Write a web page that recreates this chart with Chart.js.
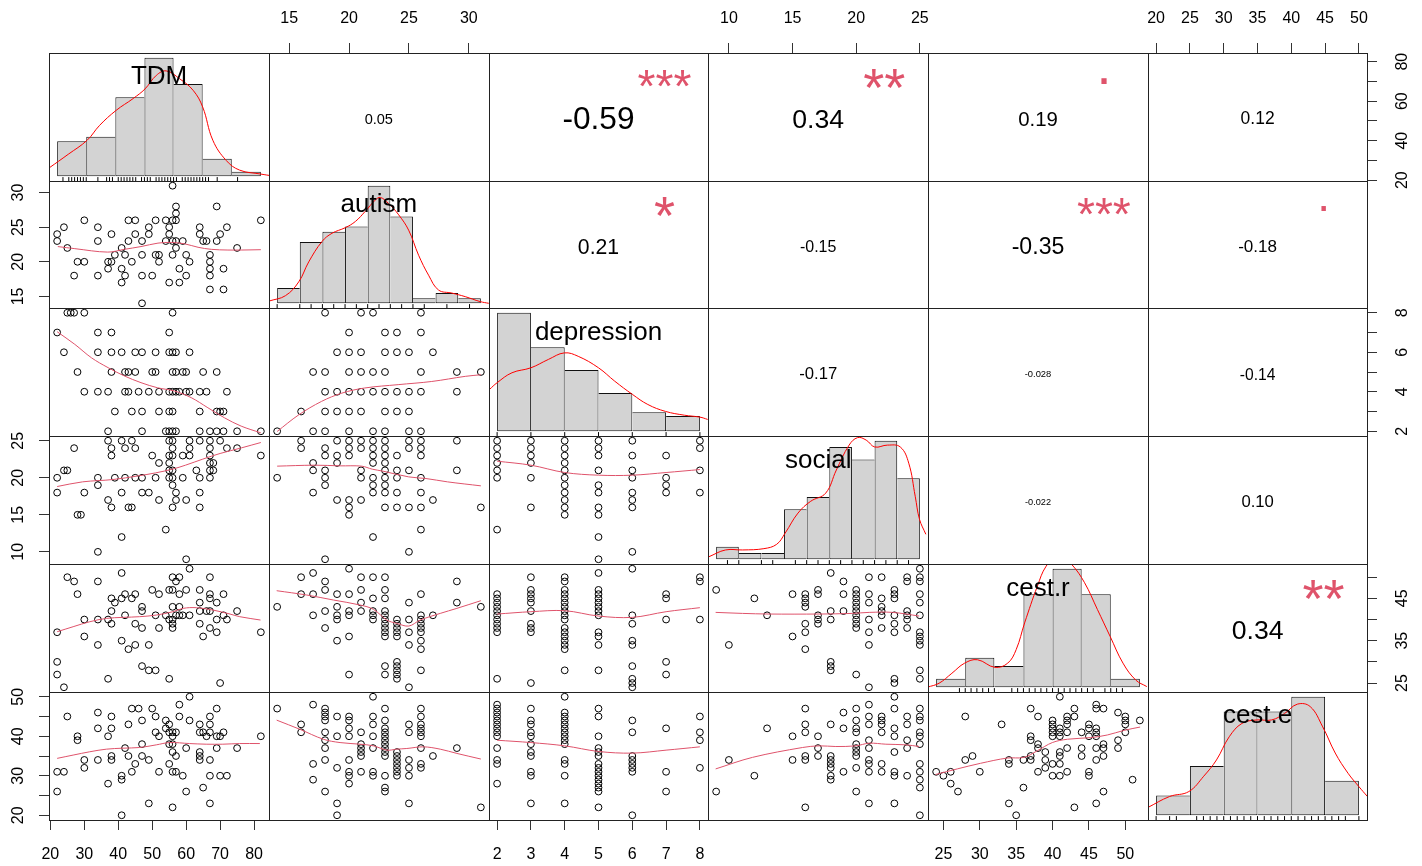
<!DOCTYPE html>
<html>
<head>
<meta charset="utf-8">
<title>chart.Correlation</title>
<script src="https://cdn.jsdelivr.net/npm/chart.js@4.4.1/dist/chart.umd.min.js"></script>
<style>
  html, body { margin: 0; padding: 0; background: #fff; }
  body { position: relative; width: 1422px; height: 866px; overflow: hidden; }
  canvas { position: absolute; }
  .txt { position: absolute; line-height: 1; white-space: nowrap; transform: translateX(-50%);
         font-family: "Liberation Sans", Arial, sans-serif; color: #000; }
</style>
</head>
<body>
<script>
// variables in matrix order
const varNames = ['TDM', 'autism', 'depression', 'social', 'cest.r', 'cest.e'];
// observed min / max of every variable (R pads these by 4% on the axes)
const varRanges = [[22, 82], [14, 31], [2, 8], [9, 25], [24, 52], [20, 50]];

// axis ticks and the labels R kept on them
const tdmTicks = [20, 30, 40, 50, 60, 70, 80];
const tdmRightLabels = [20, 40, 60, 80];
const autismTicks = [15, 20, 25, 30];
const depTicks = [2, 3, 4, 5, 6, 7, 8];
const depRightLabels = [2, 4, 6, 8];
const socialTicks = [10, 15, 20, 25];
const cestrTicks = [25, 30, 35, 40, 45, 50];
const cestrRightLabels = [25, 35, 45];
const cesteTicks = [20, 25, 30, 35, 40, 45, 50];
const cesteLeftLabels = [20, 30, 40, 50];

// histograms (breaks, counts), density curves and rugs
const tdmBreaks = [20, 30, 40, 50, 60, 70, 80, 90];
const tdmCounts = [8, 9, 18, 27, 21, 4, 1];
const tdmDensity = [[17.25,1.9],[23.8,5.0],[30.3,8.2],[34.6,11.6],[40.25,15.0],[46.1,17.7],[50.2,19.9],[54.1,23.0],[57.5,24.0],[62.1,22.2],[66.7,19.6],[70,15.8],[73.5,8.2],[78.1,3.6],[82.7,1.4],[90,0.5],[92.8,0.2]];
const tdmRug = [22,24,25,26,27,28,29,30,34,37,38,39,41,42,43,44,45,46,47,49,50,51,52,54,55,56,57,58,59,60,61,63,64,65,66,67,68,69,70,71,72,75,82];

const autismBreaks = [14, 16, 18, 20, 22, 24, 26, 28, 30, 32];
const autismCounts = [3, 12, 14, 15, 23, 17, 1, 2, 1];
const autismDensity = [[13.32,0.46],[14.74,1.5],[15.91,4.2],[16.79,8.1],[17.97,12.1],[18.85,13.7],[20.03,14.8],[20.91,16.0],[21.79,18.0],[22.68,20.2],[23.12,20.7],[23.85,19.5],[24.74,17.3],[25.62,14.3],[26.5,9.4],[27.38,5.5],[28.26,2.6],[29.44,2.0],[30.62,1.3],[31.94,0.33],[32.7,0]];
const autismRug = [14,16,17,18,19,20,21,22,23,24,25,26,27,29,31];

const depBreaks = [2, 3, 4, 5, 6, 7, 8];
const depCounts = [31, 22, 16, 10, 5, 4];
const depDensity = [[1.77,10.9],[2.0,12.7],[2.44,15.3],[3.0,16.6],[3.52,18.8],[3.99,20.5],[4.4,19.6],[5.0,16.6],[5.48,13.1],[6.01,9.6],[6.46,7.0],[6.98,5.2],[7.54,4.2],[8.0,3.7],[8.23,3.1]];
const depRug = [2, 3, 4, 5, 6, 7, 8];

const socialBreaks = [8, 10, 12, 14, 16, 18, 20, 22, 24, 26];
const socialCounts = [2, 1, 1, 8, 10, 18, 16, 19, 13];
const socialDensity = [[7.32,0.37],[8.83,1.49],[10.34,1.49],[12.22,1.7],[13.35,2.4],[14.1,4.2],[15.23,7.4],[16.36,9.3],[17.68,10.6],[18.62,14.3],[19.75,18.3],[20.5,19.5],[21.26,19.1],[22.01,18.0],[23.14,18.3],[24.27,18.0],[25.02,15.4],[25.59,10.1],[25.97,6.4],[26.53,4.0]];
const socialRug = [9,10,12,13,15,16,17,18,19,20,21,22,23,24,25];

const cestrBreaks = [20, 25, 30, 35, 40, 45, 50, 55];
const cestrCounts = [2, 7, 5, 22, 28, 22, 2];
const cestrDensity = [[18.46,0],[20.5,0.95],[22.7,3.3],[24.9,5.7],[27.1,6.5],[30.1,4.7],[32.3,5.7],[33.75,8.9],[35.2,15.2],[37.4,23.9],[38.9,28.6],[41.1,31.5],[43.3,29.0],[45.5,24.7],[47.7,18.4],[49.9,12.0],[52.1,5.7],[54.3,1.7],[56.2,0.16]];
const cestrRug = [24,25,26,27,28,29,30,33,34,35,36,37,38,39,40,41,42,43,44,45,46,47,49,50,51,52];

const cesteBreaks = [20, 25, 30, 35, 40, 45, 50];
const cesteCounts = [4, 10, 21, 21, 24, 7];
const cesteDensity = [[18.68,1.5],[22.0,3.8],[24.84,4.8],[27.04,7.9],[28.93,11.2],[30.82,15.9],[32.7,18.6],[34.9,19.3],[37.1,19.3],[39.0,20.6],[40.9,22.5],[42.8,22.0],[44.65,17.9],[46.5,12.6],[48.4,8.5],[50.0,5.8],[51.26,3.8]];
const cesteRug = [20,22,23,26,27,28,29,30,31,32,33,34,35,36,37,38,39,40,41,42,43,44,45,46,47,48,50];

// scatter panels; [y, [x...]] groups, [x, [y...]] groups or [x, y] pairs
const tdmAutism = [[31,[56]],[28,[57,69]],[27,[57]],[26,[30,43,45,51,54,56,57,82]],[25,[24,34,49,55,64,72]],[24,[22,38,45,49,55,64,70]],[23,[22,34,43,47,54,56,57,59,65,66,69]],[22,[25,41,57,75]],[21,[39,42,47,51,52,56,60,67]],[20,[28,30,37,38,44,52,61,67]],[19,[37,41,58,67,71]],[18,[27,34,42,47,50,60,67]],[17,[41,55,58]],[16,[67,71]],[14,[47]]];
const tdmDep = [[8,[25,26,27,30,56]],[7,[22,34,38,55]],[6,[24,34,38,41,45,47,51,55,56,57,61]],[5,[28,38,42,43,45,50,51,56,57,59,60,65,69]],[4,[30,34,37,42,43,46,49,52,55,56,57,58,60,61,64,66,72]],[3,[39,44,47,52,55,56,64,69,70,71]],[2,[37,47,54,55,56,57,64,67,69,71,75,82]]];
const autismDep = [[8,[18,21,22,26]],[7,[20,23,24,26]],[6,[19,20,21,23,24,25,27]],[5,[17,18,20,21,22,23,26,29,31]],[4,[18,19,20,21,22,23,24,25,26,29]],[3,[16,18,19,20,21,23,24,25]],[2,[14,17,18,20,22,23,25,26]]];
const tdmSocial = [[25,[37,41,44,55,56,61,64,67,70]],[24,[27,38,42,45,56,61,67,72,75]],[23,[38,50,55,56,59,61,67,82]],[22,[52,55,67,68]],[21,[24,25,55,56,63,67,68]],[20,[22,34,39,42,45,47,51,55,56,59,64,67]],[19,[34,56]],[18,[22,30,41,47,49,57,64]],[17,[37,52,57,60]],[16,[38,43,44,56,64]],[15,[28,29]],[13,[54]],[12,[41]],[10,[34]],[9,[60]]];
const autismSocial = [[25,[16,19,20,21,22,23,25,26,29]],[24,[16,18,20,21,22,23,25,26]],[23,[18,19,20,22,23,24,26]],[22,[17,19,22,23]],[21,[17,18,21,23,24,25,29]],[20,[14,18,21,22,23,24,26]],[19,[18,22,23]],[18,[17,22,23,24,26]],[17,[19,20,21,27]],[16,[20,23,24,25,26,31]],[15,[20]],[13,[26]],[12,[22]],[10,[25]],[9,[18]]];
const depSocial = [[2,[25,24,23,22,21,20,13]],[3,[25,24,23,22,20,16]],[4,[25,24,23,22,21,20,19,18,17,16,15]],[5,[25,24,23,21,19,18,16,15,12,9]],[6,[25,23,21,20,18,17,16,10]],[7,[23,20,19,18]],[8,[25,24,21,18]]];
const tdmCestr = [[61,52],[41,51],[25,50],[56,50],[58,50],[67,50],[27,49],[34,49],[57,49],[28,46],[38,45],[39,44],[41,45],[42,46],[44,45],[45,46],[50,47],[52,46],[55,47],[56,47],[58,46],[60,47],[64,47],[67,46],[71,46],[67,45],[69,44],[64,44],[38,42],[47,43],[47,42],[56,43],[58,43],[64,42],[66,42],[67,42],[75,42],[30,40],[34,40],[37,40],[42,41],[51,41],[54,41],[55,40],[56,40],[57,41],[58,41],[59,41],[61,41],[71,41],[72,40],[38,39],[45,39],[47,38],[52,38],[56,39],[56,38],[64,39],[67,38],[69,40],[69,37],[82,37],[22,37],[30,36],[41,35],[43,33],[45,34],[49,34],[34,34],[65,36],[22,30],[22,27],[24,24],[47,29],[49,28],[51,28],[37,26],[55,26],[70,25]];
const autismCestr = [[14,43],[16,50],[17,51],[18,49],[20,52],[21,50],[22,50],[23,50],[26,46],[25,44],[16,46],[17,46],[18,47],[19,46],[20,46],[21,47],[23,47],[23,45],[22,45],[21,44],[18,42],[19,43],[20,42],[21,42],[22,42],[17,41],[19,41],[19,40],[20,41],[22,41],[22,40],[23,42],[23,41],[23,40],[23,39],[23,38],[23,37],[23,36],[24,40],[24,39],[24,38],[24,37],[24,36],[24,30],[24,29],[24,28],[24,27],[24,26],[25,40],[25,37],[25,34],[26,41],[26,40],[26,39],[26,38],[26,37],[26,35],[26,33],[26,28],[25,24],[27,41],[23,29],[23,27],[20,27],[29,49],[29,44],[31,43],[18,38],[20,36],[19,35]];
const depCestr = [[2,[46,45,44,43,42,41,40,39,38,37,26]],[3,[50,47,46,45,44,42,39,38,37,25]],[4,[50,49,47,46,45,44,43,42,41,40,38,37,36,35,34,33,28]],[5,[51,47,46,45,44,43,42,41,37,36,34,28]],[6,[52,41,39,35,34,29,26,25,24]],[7,[46,45,40,30,27]],[8,[50,49,40]]];
const socialCestr = [[9,[47]],[10,[34]],[12,[45]],[13,[41]],[15,[46,36]],[16,[46,45,44,43,39,37,33]],[17,[47,46,41,40,39]],[18,[51,42,40,30,29,28]],[19,[49,46,42]],[20,[47,46,45,44,43,42,41,40,39,38,27]],[21,[50,46,44,40,37,34,24]],[22,[50,45,43,42,41,38]],[23,[47,46,45,41,39,37,26,25]],[24,[50,49,42,41,40,38]],[25,[52,50,49,46,44,41,37,36,35,34,28,26]]];
const tdmCeste = [[61,50],[58,48],[44,47],[46,47],[50,47],[69,47],[25,45],[34,46],[38,45],[51,45],[58,45],[67,45],[47,44],[54,44],[61,44],[43,43],[55,43],[64,43],[67,43],[34,42],[38,42],[54,42],[55,41],[56,41],[57,41],[51,41],[64,41],[65,41],[67,41],[71,41],[28,39],[28,40],[37,40],[52,40],[56,40],[66,40],[69,40],[70,40],[82,40],[47,38],[55,38],[56,38],[42,37],[60,37],[69,37],[75,37],[38,35],[43,35],[47,35],[56,36],[57,35],[64,36],[64,35],[30,34],[34,34],[38,34],[49,34],[64,34],[67,34],[30,32],[45,33],[55,33],[56,31],[57,31],[22,31],[24,31],[44,31],[52,31],[41,30],[41,29],[59,30],[67,30],[70,30],[72,30],[37,28],[22,26],[60,26],[65,27],[49,23],[67,23],[56,22],[41,20]];
const autismCeste = [[14,[47]],[16,[43,41]],[17,[48,33,29]],[18,[47,46,45,44,41,39,37,34,26]],[19,[45,40,32,23,20]],[20,[45,44,42,40,34,31,30,28]],[21,[41,38,37,36,35,31]],[22,[50,45,43,40,37,31,30]],[23,[47,44,42,41,40,39,38,37,36,35,30,27,26]],[24,[36,35,34,33,32,31,30]],[25,[43,41,34,32,30,23]],[26,[47,45,43,42,41,40,37,33,32]],[27,[35]],[29,[37]],[31,[22]]];
const depCeste = [[2,[48,47,46,45,44,43,42,41,40,37,34,33,28]],[3,[47,44,43,41,40,38,36,35,31,30,23]],[4,[50,46,45,44,43,42,41,40,39,38,34,33,30,23]],[5,[47,45,40,37,36,35,33,32,31,30,29,28,27,26,22]],[6,[44,41,35,34,33,32,31,20]],[7,[42,31,26]],[8,[45,41,39,32]]];
const socialCeste = [[9,[26]],[10,[34]],[12,[30]],[13,[42]],[15,[40,34]],[16,[47,43,41,35,34,22]],[17,[40,37,35]],[18,[43,35,34,33,32,30,29]],[19,[46,42,31]],[20,[47,44,42,41,38,37,36,35,32,26]],[21,[48,45,43,39,37,34,33,31,23]],[22,[45,44,43,41,33,31]],[23,[50,47,42,40,36,31,30,23]],[24,[45,43,39,37,30]],[25,[47,45,44,41,40,38,33,31,29,27,20]]];
const cestrCeste = [[24,[31]],[25,[30]],[26,[31,28]],[27,[26]],[28,[45,34]],[29,[35]],[30,[31]],[33,[43]],[34,[34,33,23]],[35,[20]],[36,[34,27]],[37,[47,40,39,35,34]],[38,[45,38,37,31]],[39,[36,34,32]],[40,[44,43,42,41,40,33,30]],[41,[50,42,41,40,36,35,33,30]],[42,[45,44,43,41,37,31]],[43,[47,45,22]],[44,[41,37,35]],[45,[43,42,40,31,30]],[46,[48,47,42,41,40,37,34,23]],[47,[47,38,37,35,26]],[49,[46,39,37]],[50,[45,44,43,41]],[51,[29]],[52,[44]]];

// smoothers (panel.smooth)
const fitTdmAutism = [[22.2,22.2],[27.2,21.9],[36.9,21.4],[41.8,21.8],[46.7,22.2],[51.7,22.7],[55.6,22.8],[59.5,22.6],[63.5,22.1],[67.4,21.8],[72.3,21.7],[76.2,21.7],[82,21.75]];
const fitTdmDep = [[22,7.04],[27.2,6.4],[32.1,5.72],[37,5.22],[41.8,4.8],[46.7,4.46],[51.6,4.2],[56.5,4.04],[61.5,3.7],[66.4,3.19],[71.3,2.68],[76.2,2.26],[82,1.92]];
const fitAutismDep = [[14,1.99],[15.8,2.83],[17.7,3.51],[19.4,3.93],[21.3,4.19],[24.1,4.36],[26.9,4.52],[29.7,4.78],[31,4.86]];
const fitTdmSocial = [[22,18.82],[29.5,19.45],[38.4,19.76],[45.9,20.26],[51,20.66],[56,21.17],[59.8,21.7],[64.9,22.52],[70,23.28],[76.3,24.04],[82,24.76]];
const fitAutismSocial = [[14,21.57],[17.1,21.7],[19.25,21.61],[21.05,21.57],[21.94,21.16],[22.84,20.89],[24.98,20.12],[26.42,19.9],[28.21,19.45],[31,18.91]];
const fitDepSocial = [[2,22.24],[3,21.7],[4,20.71],[5,20.35],[6,20.35],[7,20.71],[8,21.11]];
const fitTdmCestr = [[22,37.12],[26.7,38.3],[31.6,39.48],[36.5,40.27],[41.4,40.51],[46.3,40.67],[51.2,41.06],[56.1,41.85],[59.1,42.64],[63,42.8],[67.9,42.24],[72.9,41.3],[75.8,40.67],[81.9,39.88]];
const fitAutismCestr = [[13.96,46.81],[16.47,45.79],[18.7,44.61],[20.92,43.43],[22.04,42.4],[23.15,39.88],[23.99,39.09],[24.99,38.46],[25.94,39.88],[27.61,41.45],[29,42.64],[31,44.45]];
const fitDepCestr = [[2,41.3],[3,41.85],[4,42.09],[5,40.82],[6,40.51],[7,41.85],[8,42.8]];
const fitSocialCestr = [[8.96,41.69],[11.06,41.45],[13.15,41.3],[17.09,41.3],[19.71,41.45],[21.02,41.69],[22.86,41.69],[24.95,40.82]];
const fitTdmCeste = [[22,34.4],[26.7,35.23],[31.6,36.07],[36.5,36.73],[41.4,36.98],[46.3,37.15],[51.2,37.82],[55.1,38.4],[61,38.15],[65.9,37.99],[70.8,37.99],[75.7,38.15],[81.7,38.15]];
const fitAutismCeste = [[13.96,44.08],[15.91,41.74],[17.86,39.24],[19.25,38.4],[20.92,37.99],[22.04,37.57],[23.15,36.49],[23.99,36.73],[24.82,36.9],[26.21,37.32],[27.61,36.73],[29,35.65],[31,34.23]];
const fitDepCeste = [[2,38.99],[3,38.4],[4,37.57],[5,36.15],[6,35.73],[7,36.48],[8,37.32]];
const fitSocialCeste = [[8.96,31.73],[11.85,34.65],[15.78,37.15],[17.09,37.57],[18.4,37.4],[19.97,37.57],[21.02,38.24],[22.33,37.99],[23.91,37.82],[24.95,37.4]];
const fitCestrCeste = [[23.92,30.31],[26.9,31.73],[30.1,33.15],[33.78,34.48],[36.07,34.65],[37.9,36.32],[39.97,38.4],[42.04,39.24],[45.25,39.66],[47.54,40.32],[49.83,41.49],[52.04,42.33]];

// upper triangle, row by row
const corLabels = ['0.05', '-0.59', '0.34', '0.19', '0.12', '0.21', '-0.15', '-0.35', '-0.18', '-0.17', '-0.028', '-0.14', '-0.022', '0.10', '0.34'];
const corStars = ['', '***', '**', '.', '', '*', '', '***', '.', '', '', '', '', '', '**'];

// ---------------------------------------------------------------
const FONT = '"Liberation Sans", Arial, sans-serif';
const L0 = 49.3, T0 = 52.7, CW = 219.7, CH = 127.83, M = 50;
const colX = [], rowY = [];
for (let i = 0; i <= 6; i++) {
  colX.push(Math.round(L0 + i * CW));
  rowY.push(Math.round(T0 + i * CH));
}

const rowsY = g => g.flatMap(([y, xs]) => xs.map(x => ({x, y})));
const colsX = g => g.flatMap(([x, ys]) => ys.map(y => ({x, y})));
const pairs = p => p.map(([x, y]) => ({x, y}));

const hists = [
  {breaks: tdmBreaks, counts: tdmCounts, dens: tdmDensity, rug: tdmRug},
  {breaks: autismBreaks, counts: autismCounts, dens: autismDensity, rug: autismRug},
  {breaks: depBreaks, counts: depCounts, dens: depDensity, rug: depRug},
  {breaks: socialBreaks, counts: socialCounts, dens: socialDensity, rug: socialRug},
  {breaks: cestrBreaks, counts: cestrCounts, dens: cestrDensity, rug: cestrRug},
  {breaks: cesteBreaks, counts: cesteCounts, dens: cesteDensity, rug: cesteRug},
];

const panels = {
  '1,0': [rowsY(tdmAutism), fitTdmAutism],
  '2,0': [rowsY(tdmDep), fitTdmDep],
  '2,1': [rowsY(autismDep), fitAutismDep],
  '3,0': [rowsY(tdmSocial), fitTdmSocial],
  '3,1': [rowsY(autismSocial), fitAutismSocial],
  '3,2': [colsX(depSocial), fitDepSocial],
  '4,0': [pairs(tdmCestr), fitTdmCestr],
  '4,1': [pairs(autismCestr), fitAutismCestr],
  '4,2': [colsX(depCestr), fitDepCestr],
  '4,3': [colsX(socialCestr), fitSocialCestr],
  '5,0': [pairs(tdmCeste), fitTdmCeste],
  '5,1': [colsX(autismCeste), fitAutismCeste],
  '5,2': [colsX(depCeste), fitDepCeste],
  '5,3': [colsX(socialCeste), fitSocialCeste],
  '5,4': [colsX(cestrCeste), fitCestrCeste],
};

// outer axes: [ticks, labels, padding]
const topAxes = {1: [autismTicks, autismTicks, 15], 3: [socialTicks, socialTicks, 15], 5: [cesteTicks, cesteTicks, 15]};
const bottomAxes = {0: [tdmTicks, tdmTicks, 15], 2: [depTicks, depTicks, 15], 4: [cestrTicks, cestrTicks, 15]};
const leftAxes = {1: [autismTicks, autismTicks, 12], 3: [socialTicks, socialTicks, 12], 5: [cesteTicks, cesteLeftLabels, 12]};
const rightAxes = {0: [tdmTicks, tdmRightLabels, 17], 2: [depTicks, depRightLabels, 21], 4: [cestrTicks, cestrRightLabels, 17]};

const boxPlugin = {
  id: 'box',
  afterDraw(chart) {
    const {ctx, chartArea: a} = chart;
    ctx.save();
    ctx.strokeStyle = '#222';
    ctx.lineWidth = 1;
    ctx.strokeRect(a.left + 0.5, a.top + 0.5, a.right - a.left, a.bottom - a.top);
    ctx.restore();
  }
};

function padded(v) {
  const [lo, hi] = varRanges[v];
  const e = 0.04 * (hi - lo);
  return [lo - e, hi + e];
}

function axis(v, horizontal, pos, spec) {
  const [mn, mx] = padded(v);
  const s = {type: 'linear', min: mn, max: mx, offset: false, display: !!pos,
             border: {display: false}, grid: {display: false}};
  if (!pos) return s;
  const [ticks, labels, pad] = spec;
  s.position = pos;
  s.grid = {display: true, drawOnChartArea: false, drawTicks: true, tickLength: 10, color: '#333'};
  s.ticks = {autoSkip: false, includeBounds: false, padding: pad, color: '#000',
             font: {family: FONT, size: 16},
             callback: val => labels.includes(val) ? String(val) : ''};
  if (!horizontal) Object.assign(s.ticks, {minRotation: 90, maxRotation: 90, crossAlign: 'center'});
  s.afterBuildTicks = sc => { sc.ticks = ticks.map(t => ({value: t})); };
  s.afterFit = sc => { if (horizontal) sc.height = M; else sc.width = M; };
  return s;
}

function makeCanvas(r, c) {
  const x0 = colX[c], y0 = rowY[r];
  const w = colX[c + 1] - x0 + 2 * M, h = rowY[r + 1] - y0 + 2 * M;
  const cv = document.createElement('canvas');
  cv.width = w; cv.height = h;
  cv.style.left = (x0 - M) + 'px'; cv.style.top = (y0 - M) + 'px';
  cv.style.width = w + 'px'; cv.style.height = h + 'px';
  document.body.appendChild(cv);
  return cv;
}

const baseOptions = () => ({
  responsive: false, animation: false, devicePixelRatio: 1, events: [],
  plugins: {legend: {display: false}, tooltip: {enabled: false}, title: {display: false}},
});

function histCell(r) {
  const hs = hists[r];
  const b = hs.breaks, n = b.length - 1, cnt = hs.counts;
  const span = b[n] - b[0], top = Math.max(...cnt);
  const ymin = -0.04 * top, ymax = 1.04 * top;
  const opts = baseOptions();
  opts.layout = {padding: M, autoPadding: false};
  opts.scales = {
    x: {type: 'linear', display: false, offset: false, min: b[0] - 0.04 * span, max: b[n] + 0.04 * span,
        afterBuildTicks: sc => { sc.ticks = []; }},
    y: {type: 'linear', display: false, min: ymin, max: ymax},
  };
  new Chart(makeCanvas(r, r), {
    type: 'bar',
    data: {datasets: [
      {type: 'line', data: pairs(hs.dens), borderColor: '#FF0000', borderWidth: 1, pointRadius: 0, tension: 0.4, fill: false},
      {type: 'scatter', data: hs.rug.map(x => ({x, y: ymin + 0.015 * (ymax - ymin)})), pointStyle: 'line',
       rotation: 90, pointRadius: 2, borderColor: '#000', borderWidth: 1},
      {type: 'bar', data: cnt.map((y, i) => ({x: (b[i] + b[i + 1]) / 2, y})),
       backgroundColor: '#D3D3D3', borderColor: '#111', borderSkipped: false, inflateAmount: 0,
       barPercentage: 1, categoryPercentage: 1, grouped: false,
       borderWidth: ctx => {
         const i = ctx.dataIndex;
         return {top: 1, bottom: 1,
                 left: (i === 0 || cnt[i] > cnt[i - 1]) ? 1 : 0,
                 right: (i === cnt.length - 1 || cnt[i] >= cnt[i + 1]) ? 1 : 0};
       }},
    ]},
    options: opts,
    plugins: [boxPlugin],
  });
}

function plainCell(r, c) {
  const top = r === 0 ? topAxes[c] : null;
  const bottom = r === 5 ? bottomAxes[c] : null;
  const left = c === 0 ? leftAxes[r] : null;
  const right = c === 5 ? rightAxes[r] : null;
  const xSpec = top || bottom, ySpec = left || right;
  const opts = baseOptions();
  opts.layout = {autoPadding: false, padding: {
    left: left ? 0 : M, right: right ? 0 : M, top: top ? 0 : M, bottom: bottom ? 0 : M}};
  opts.scales = {
    x: axis(c, true, top ? 'top' : bottom ? 'bottom' : null, xSpec),
    y: axis(r, false, left ? 'left' : right ? 'right' : null, ySpec),
  };
  const datasets = [];
  const p = panels[r + ',' + c];
  if (p) {
    datasets.push({type: 'line', data: pairs(p[1]), borderColor: '#DF536B', borderWidth: 1,
                   pointRadius: 0, tension: 0.35, fill: false});
    datasets.push({type: 'scatter', data: p[0], pointRadius: 3.4, borderWidth: 1,
                   borderColor: '#000', backgroundColor: 'rgba(0,0,0,0)'});
  }
  new Chart(makeCanvas(r, c), {type: 'scatter', data: {datasets}, options: opts, plugins: [boxPlugin]});
}

for (let r = 0; r < 6; r++) {
  for (let c = 0; c < 6; c++) {
    if (r === c) histCell(r); else plainCell(r, c);
  }
}

// ---------------- texts ----------------
const mctx = document.createElement('canvas').getContext('2d');
function widthAt100(str) { mctx.font = '100px ' + FONT; return mctx.measureText(str).width; }
function addText(str, cx, cy, size, color, k) {
  const d = document.createElement('div');
  d.className = 'txt';
  d.textContent = str;
  d.style.fontSize = size.toFixed(2) + 'px';
  d.style.color = color;
  d.style.left = cx.toFixed(1) + 'px';
  d.style.top = (cy - k * size).toFixed(1) + 'px';
  document.body.appendChild(d);
}

varNames.forEach((name, i) => {
  addText(name, L0 + (i + 0.5) * CW, T0 + (i + 1 - 0.8333) * CH + 1, 26, '#000', 0.49);
});

let idx = 0;
for (let r = 0; r < 6; r++) {
  for (let c = r + 1; c < 6; c++, idx++) {
    const lab = corLabels[idx], rv = Math.abs(parseFloat(lab));
    const size = 100 * (81 * (rv + 0.3)) / widthAt100(lab);
    addText(lab, L0 + (c + 0.5) * CW, T0 + (r + 0.5) * CH + 2, size, '#000', 0.49);
    const st = corStars[idx];
    if (st) {
      const ss = size * 1.3 / (rv + 0.3);
      addText(st, L0 + (c + 0.8) * CW, T0 + (r + 0.2) * CH + 2, ss, '#DF536B', st === '.' ? 0.78 : 0.38);
    }
  }
}
</script>
</body>
</html>
